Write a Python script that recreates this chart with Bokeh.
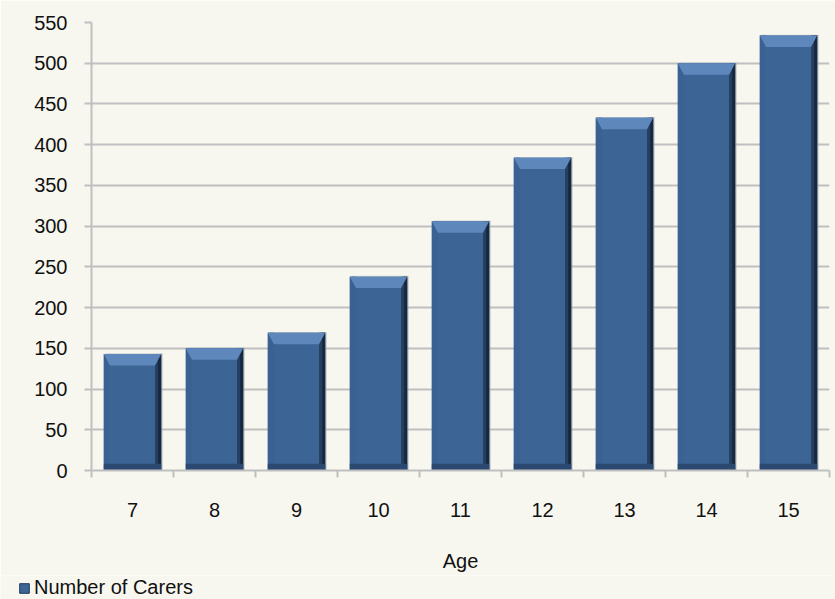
from bokeh.plotting import figure
from bokeh.layouts import column, row
from bokeh.models import Range1d, FixedTicker, Legend, LegendItem, ColumnDataSource
from bokeh.embed import file_html
from bokeh.resources import INLINE

ages = [7, 8, 9, 10, 11, 12, 13, 14, 15]
carers = [143, 150, 169, 238, 306, 384, 433, 500, 534]
y_ticks = list(range(0, 551, 50))
series_name = "Number of Carers"
x_title = "Age"

BG = "#F7F7F0"
GRID = "#BFBFBF"
FONT = "Liberation Sans"
FS = "20px"
W = 0.7          # bar width in category units
BX = 0.075       # horizontal bevel
BY = 14          # vertical bevel in data units
BAR = "#3C6596"

p = figure(width=835, height=575, output_backend="svg", toolbar_location=None,
           x_range=Range1d(6.5, 15.5), y_range=Range1d(0, 550),
           min_border_left=91, min_border_right=6, min_border_top=22, min_border_bottom=105,
           background_fill_color=BG, border_fill_color=BG, outline_line_color=None)

src = ColumnDataSource(dict(x=ages, top=carers))

p.vbar(x=[a + 0.02 for a in ages], top=[c + 1 for c in carers], width=W,
       fill_color="#A8ADB3", fill_alpha=0.5, line_color=None)
main = p.vbar(x="x", top="top", width=W, source=src, fill_color=BAR, line_color=None)
# left bevel
p.vbar(x=[a - W / 2 + BX / 2 for a in ages], top=carers, width=BX,
       fill_color="#3A6192", line_color=None)
# right dark bevel
p.vbar(x=[a + W / 2 - BX / 2 for a in ages], top=carers, width=BX,
       fill_color="#25405F", line_color=None)
p.vbar(x=[a + W / 2 - BX * 0.25 for a in ages], top=carers, width=BX * 0.5,
       fill_color="#18283F", line_color=None)
# bottom dark bevel
p.quad(left=[a - W / 2 for a in ages], right=[a + W / 2 for a in ages],
       bottom=[0] * len(ages), top=[BY * 0.6] * len(ages),
       fill_color="#2B4870", line_color=None)
# top light bevel trapezoid
xs = [[a - W / 2, a + W / 2, a + W / 2 - BX, a - W / 2 + BX] for a in ages]
ys = [[c, c, c - BY, c - BY] for c in carers]
p.patches(xs, ys, fill_color="#5E87BC", line_color=None)

# axes
p.xgrid.visible = False
p.ygrid.grid_line_color = GRID
p.ygrid.grid_line_width = 2
p.yaxis.ticker = FixedTicker(ticks=y_ticks)
p.xaxis.ticker = FixedTicker(ticks=ages, minor_ticks=[a - 0.5 for a in ages] + [ages[-1] + 0.5])

for ax in (p.xaxis[0], p.yaxis[0]):
    ax.axis_line_color = GRID
    ax.axis_line_width = 2
    ax.major_label_text_font = FONT
    ax.major_label_text_font_size = FS
    ax.major_label_text_color = "#111111"
    ax.axis_label_text_font = FONT
    ax.axis_label_text_font_size = FS
    ax.axis_label_text_font_style = "normal"
    ax.axis_label_text_color = "#111111"

p.yaxis.major_tick_line_color = GRID
p.yaxis.major_tick_line_width = 2
p.yaxis.major_tick_out = 7
p.yaxis.major_tick_in = 0
p.yaxis.minor_tick_line_color = None
p.yaxis.major_label_standoff = 17

p.xaxis.major_tick_line_color = None
p.xaxis.major_tick_out = 0
p.xaxis.major_tick_in = 0
p.xaxis.minor_tick_line_color = GRID
p.xaxis.minor_tick_line_width = 2
p.xaxis.minor_tick_out = 7
p.xaxis.minor_tick_in = 0
p.xaxis.major_label_standoff = 25
p.xaxis.axis_label = x_title
p.xaxis.axis_label_standoff = 30

# legend strip
lp = figure(width=835, height=24, output_backend="svg", toolbar_location=None,
            x_range=Range1d(0, 1), y_range=Range1d(0, 1),
            x_axis_location=None, y_axis_location=None,
            min_border=0, min_border_left=0, min_border_right=0,
            min_border_top=0, min_border_bottom=0,
            background_fill_color=BG, border_fill_color=BG, outline_line_color=None)
lp.xgrid.visible = False
lp.ygrid.visible = False
proxy = lp.vbar(x=[5], top=[1], width=W, fill_color=BAR, line_color="#22395A", line_width=1)
legend = Legend(items=[LegendItem(label=series_name, renderers=[proxy])],
                location=(18, 0), orientation="horizontal",
                label_text_font=FONT, label_text_font_size=FS, label_text_color="#111111",
                glyph_width=12, glyph_height=12, label_standoff=4,
                padding=0, margin=0, spacing=0,
                border_line_color=None, background_fill_alpha=0)
lp.add_layout(legend, "center")

layout = column(p, row(lp, spacing=0), spacing=0)
open("out.html", "w").write(file_html(layout, INLINE))
